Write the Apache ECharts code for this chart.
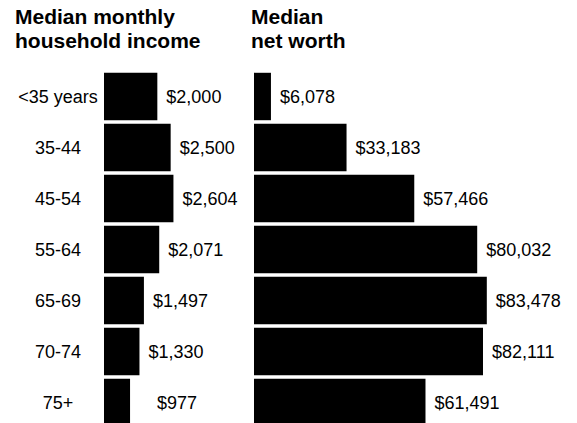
<!DOCTYPE html>
<html>
<head>
<meta charset="utf-8">
<script src="https://cdn.jsdelivr.net/npm/echarts@6/dist/echarts.min.js"></script>
<style>
  html, body { margin: 0; padding: 0; background: #fff; }
  #chart { width: 577px; height: 423px; }
</style>
</head>
<body>
<div id="chart"></div>
<script>
const ageGroups = ['<35 years', '35-44', '45-54', '55-64', '65-69', '70-74', '75+'];
const monthlyIncome = [2000, 2500, 2604, 2071, 1497, 1330, 977];
const netWorth = [6078, 33183, 57466, 80032, 83478, 82111, 61491];

function money(v) {
  return '$' + v.toLocaleString('en-US');
}

let chart = echarts.init(document.getElementById('chart'), null, {renderer: 'svg'});
let option;

const labelFont = {
  fontFamily: 'Liberation Sans, Arial, sans-serif',
  fontSize: 18,
  color: '#000'
};

const titleStyle = {
  fontFamily: 'Liberation Sans, Arial, sans-serif',
  fontSize: 21,
  fontWeight: 'bold',
  lineHeight: 24,
  color: '#000'
};

option = {
  animation: false,
  title: [
    {text: 'Median monthly\nhousehold income', left: 15, top: 4, padding: 0, textStyle: titleStyle},
    {text: 'Median\nnet worth', left: 251, top: 4, padding: 0, textStyle: titleStyle}
  ],
  grid: [
    {left: 104, top: 71, width: 80, height: 357, outerBoundsMode: 'none'},
    {left: 254, top: 71, width: 251, height: 357, outerBoundsMode: 'none'}
  ],
  xAxis: [
    {gridIndex: 0, type: 'value', min: 0, max: 3000, show: false},
    {gridIndex: 1, type: 'value', min: 0, max: 90000, show: false}
  ],
  yAxis: [
    {
      gridIndex: 0,
      type: 'category',
      data: ageGroups,
      inverse: true,
      axisLine: {show: false},
      axisTick: {show: false},
      axisLabel: Object.assign({margin: 46, align: 'center'}, labelFont)
    },
    {
      gridIndex: 1,
      type: 'category',
      data: ageGroups,
      inverse: true,
      show: false
    }
  ],
  series: [
    {
      type: 'bar',
      xAxisIndex: 0,
      yAxisIndex: 0,
      barCategoryGap: '7%',
      itemStyle: {color: '#000'},
      label: Object.assign({
        show: true,
        position: 'right',
        distance: 9,
        formatter: p => money(p.value)
      }, labelFont),
      // the $977 label sits further out in the original
      data: monthlyIncome.map((v, i) => i === monthlyIncome.length - 1
        ? {value: v, label: {distance: 27}}
        : v)
    },
    {
      type: 'bar',
      xAxisIndex: 1,
      yAxisIndex: 1,
      barCategoryGap: '7%',
      itemStyle: {color: '#000'},
      label: Object.assign({
        show: true,
        position: 'right',
        distance: 9,
        formatter: p => money(p.value)
      }, labelFont),
      data: netWorth
    }
  ]
};

chart.setOption(option);
window.addEventListener('resize', function () {
  chart.resize();
});
</script>
</body>
</html>
